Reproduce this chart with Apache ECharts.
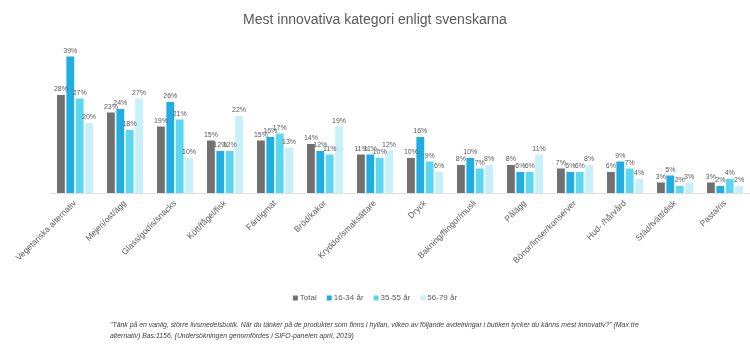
<!DOCTYPE html>
<html><head><meta charset="utf-8">
<script src="https://cdn.jsdelivr.net/npm/echarts@6/dist/echarts.min.js"></script>
<style>html,body{margin:0;padding:0;background:#fff}#c{width:750px;height:349px}</style>
</head><body><div id="c"></div>
<script>
const categories = ["Vegetariska alternativ","Mejeri/ost/ägg","Glass/godis/snacks","Kött/fågel/fisk","Färdigmat","Bröd/kakor","Kryddor/smaksättare","Dryck","Bakning/flingor/musli","Pålägg","Bönor/linser/konserver","Hud- /hårvård","Städ/tvätt/disk","Pasta/ris"];
const seriesNames = ["Total","16-34 år","35-55 år","56-79 år"];
const total = [28,23,19,15,15,14,11,10,8,8,7,6,3,3];
const age1634 = [39,24,26,12,16,12,11,16,10,6,6,9,5,2];
const age3555 = [27,18,21,12,17,11,10,9,7,6,6,7,2,4];
const age5679 = [20,27,10,22,13,19,12,6,8,11,8,4,3,2];
const colors = ["#717171","#20ade2","#5dd7ef","#c6f1fa"];
const values = [total, age1634, age3555, age5679];
const footnote = "\"Tänk på en vanlig, större livsmedelsbutik. När du tänker på de produkter som finns i hyllan, vilken av följande avdelningar i butiken tycker du känns mest innovativ?\" (Max tre\nalternativ) Bas:1156. (Undersökningen genomfördes i SIFO-panelen april, 2019)";

const chart = echarts.init(document.getElementById('c'), null, {renderer:'canvas'});
chart.setOption({
  backgroundColor:'#fff',
  animation:false,
  title:{text:"Mest innovativa kategori enligt svenskarna", left:'center', top:8,
    textStyle:{fontFamily:'Liberation Sans, Arial', fontSize:14, fontWeight:'normal', color:'#595959'}},
  legend:{data:seriesNames, top:289, left:'center', itemWidth:5, itemHeight:5, itemGap:10,
    icon:'rect', textStyle:{fontFamily:'Liberation Sans, Arial', fontSize:8, color:'#595959', padding:[0,0,0,-3]}},
  grid:{left:50, right:0, top:53, height:140, containLabel:false},
  xAxis:{type:'category', data:categories,
    axisLine:{lineStyle:{color:'#e0e0e0', width:1}}, axisTick:{show:false},
    axisLabel:{rotate:45, interval:0, fontFamily:'Liberation Sans, Arial', fontSize:8.5, color:'#595959', margin:9}},
  yAxis:{type:'value', min:0, max:40, show:false, splitLine:{show:false}},
  series: seriesNames.map((n,i)=>({
    name:n, type:'bar', data:values[i], barGap:'20%', barCategoryGap:'28%',
    itemStyle:{color:colors[i]},
    label:{show:true, position:'top', formatter:'{c}%', fontFamily:'Liberation Sans, Arial', fontSize:7, color:'#595959', distance:2}
  })),
  graphic:[{type:'text', left:110, top:320, style:{text:footnote, font:'italic 6.9px "Liberation Sans", Arial', fill:'#404040', lineHeight:10.5}}]
});
</script></body></html>
